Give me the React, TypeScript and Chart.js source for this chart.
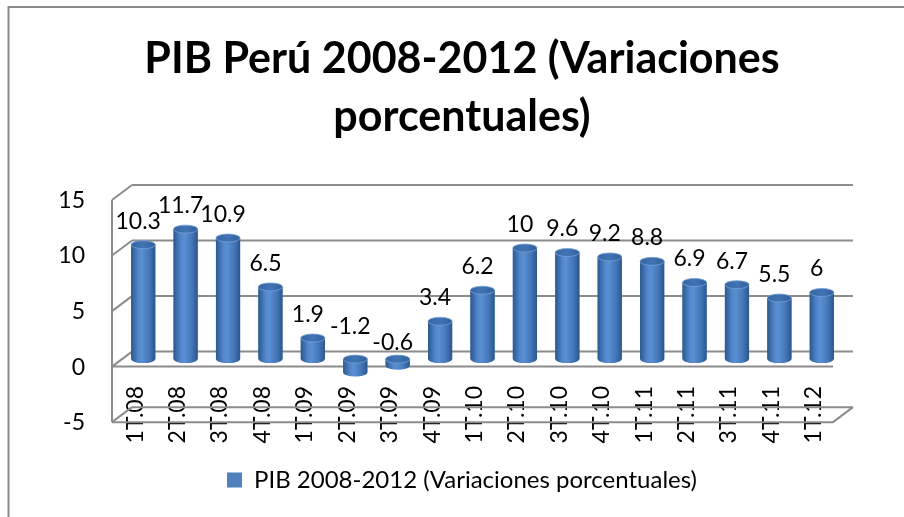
import React, { useEffect, useRef } from "react";
import { Chart, registerables } from "chart.js";

Chart.register(...registerables);

const categories = [
  "1T.08", "2T.08", "3T.08", "4T.08",
  "1T.09", "2T.09", "3T.09", "4T.09",
  "1T.10", "2T.10", "3T.10", "4T.10",
  "1T.11", "2T.11", "3T.11", "4T.11",
  "1T.12",
];
const pibValues = [10.3, 11.7, 10.9, 6.5, 1.9, -1.2, -0.6, 3.4, 6.2, 10, 9.6, 9.2, 8.8, 6.9, 6.7, 5.5, 6];
const yTickValues = [-5, 0, 5, 10, 15];
const seriesLabel = "PIB 2008-2012 (Variaciones porcentuales)";
const titleLines = ["PIB Perú 2008-2012 (Variaciones", "porcentuales)"];

const FONT = "Lato";
const DX = 10;
const DY = 7.5;
const GRID = "#8c8c8c";

const framePlugin = {
  id: "frame3d",
  beforeDraw(chart: any) {
    const { ctx } = chart;
    ctx.save();
    ctx.strokeStyle = "#8a8a8a";
    ctx.lineWidth = 2;
    ctx.beginPath();
    ctx.moveTo(8, 7);
    ctx.lineTo(chart.width, 7);
    ctx.moveTo(8.5, 6);
    ctx.lineTo(8.5, chart.height);
    ctx.stroke();
    ctx.restore();
  },
  beforeDatasetsDraw(chart: any) {
    const { ctx, chartArea } = chart;
    const y = chart.scales.y;
    const L = chartArea.left;
    const R = chartArea.right;
    ctx.save();
    ctx.strokeStyle = GRID;
    ctx.lineWidth = 2;
    ctx.beginPath();
    yTickValues.forEach((v) => {
      const p = y.getPixelForValue(v);
      ctx.moveTo(L + DX, p - DY);
      ctx.lineTo(R + DX, p - DY);
      ctx.moveTo(L - DX, p + DY);
      ctx.lineTo(L + DX, p - DY);
    });
    const pTop = y.getPixelForValue(yTickValues[yTickValues.length - 1]);
    const pMin = y.getPixelForValue(yTickValues[0]);
    const p0 = y.getPixelForValue(0);
    ctx.moveTo(L - DX, pTop + DY);
    ctx.lineTo(L - DX, pMin + DY);
    ctx.moveTo(L - DX, p0 + DY);
    ctx.lineTo(R - DX, p0 + DY);
    ctx.moveTo(L - DX, pMin + DY);
    ctx.lineTo(R - DX, pMin + DY);
    ctx.lineTo(R + DX, pMin - DY);
    ctx.stroke();
    ctx.restore();
  },
  afterDatasetsDraw(chart: any) {
    const { ctx } = chart;
    const yScale = chart.scales.y;
    const meta = chart.getDatasetMeta(0);
    const p0 = yScale.getPixelForValue(0);
    ctx.save();
    meta.data.forEach((el: any) => {
      const { x, y, base, width } = el.getProps(["x", "y", "base", "width"], true);
      const top = Math.min(y, base);
      const bottom = Math.max(y, base);
      const hw = width / 2;
      const ry = 4;
      const grad = ctx.createLinearGradient(x - hw, 0, x + hw, 0);
      grad.addColorStop(0, "#2b5890");
      grad.addColorStop(0.3, "#5287cb");
      grad.addColorStop(0.45, "#5a8fd3");
      grad.addColorStop(0.75, "#4577b8");
      grad.addColorStop(1, "#2a568d");
      ctx.fillStyle = grad;
      ctx.beginPath();
      ctx.moveTo(x - hw, top);
      ctx.lineTo(x - hw, bottom);
      ctx.ellipse(x, bottom, hw, ry, 0, Math.PI, 0, true);
      ctx.lineTo(x + hw, top);
      ctx.closePath();
      ctx.fill();
      const capGrad = ctx.createLinearGradient(x - hw, 0, x + hw, 0);
      capGrad.addColorStop(0, "#3464a2");
      capGrad.addColorStop(0.5, "#4274b5");
      capGrad.addColorStop(1, "#2f5f9c");
      ctx.fillStyle = capGrad;
      ctx.beginPath();
      ctx.ellipse(x, top, hw, ry, 0, 0, Math.PI * 2);
      ctx.fill();
      ctx.strokeStyle = "rgba(120,160,215,0.8)";
      ctx.lineWidth = 1;
      ctx.stroke();
    });
    ctx.fillStyle = "#000";
    ctx.font = `23px ${FONT}`;
    ctx.textAlign = "center";
    ctx.textBaseline = "middle";
    meta.data.forEach((el: any, i: number) => {
      const v = pibValues[i];
      const ly = v >= 0 ? el.y - 23.5 : p0 + v * 27;
      ctx.fillText(String(v), el.x - 5, ly);
    });
    ctx.restore();
  },
};

export default function App() {
  const canvasRef = useRef<HTMLCanvasElement | null>(null);

  useEffect(() => {
    if (!canvasRef.current) return;
    const chart = new Chart(canvasRef.current, {
      type: "bar",
      data: {
        labels: categories,
        datasets: [
          {
            label: seriesLabel,
            data: pibValues,
            backgroundColor: "#4f81bd",
            borderWidth: 0,
            barPercentage: 0.57,
            categoryPercentage: 1,
          },
        ],
      },
      options: {
        animation: false,
        responsive: true,
        maintainAspectRatio: false,
        layout: { padding: { left: 40, right: 20, top: 0, bottom: 15 } },
        plugins: {
          title: {
            display: true,
            text: titleLines,
            color: "#000",
            font: { family: FONT, size: 43, weight: "bold", lineHeight: "58px" },
            padding: { top: 30.5, bottom: 46 },
          },
          legend: {
            display: true,
            position: "bottom",
            labels: {
              color: "#000",
              font: { family: FONT, size: 24 },
              boxWidth: 15,
              boxHeight: 15,
              padding: 15,
            },
          },
          tooltip: { enabled: false },
        },
        scales: {
          x: {
            grid: { display: false, drawTicks: false },
            border: { display: false },
            ticks: {
              color: "#000",
              font: { family: FONT, size: 23 },
              maxRotation: 90,
              minRotation: 90,
              autoSkip: false,
              padding: 3,
              labelOffset: -8,
            },
            afterFit: (s: any) => {
              s.height = 70;
            },
          },
          y: {
            min: -2.15,
            max: 15,
            grid: { display: false, drawTicks: false },
            border: { display: false },
            afterBuildTicks: (s: any) => {
              s.ticks = yTickValues.map((value) => ({ value }));
            },
            ticks: {
              color: "#000",
              font: { family: FONT, size: 23 },
              padding: 37,
              labelOffset: 8,
            },
            afterFit: (s: any) => {
              s.width = 82;
            },
          },
          yR: {
            type: "linear",
            position: "right",
            display: true,
            grid: { display: false, drawTicks: false },
            border: { display: false },
            ticks: { display: false },
            afterFit: (s: any) => {
              s.width = 41;
            },
          },
        },
      },
      plugins: [framePlugin],
    });
    return () => chart.destroy();
  }, []);

  return (
    <div style={{ position: "fixed", left: 0, top: 0, width: 904, height: 517, background: "#fff" }}>
      <canvas ref={canvasRef} />
    </div>
  );
}
